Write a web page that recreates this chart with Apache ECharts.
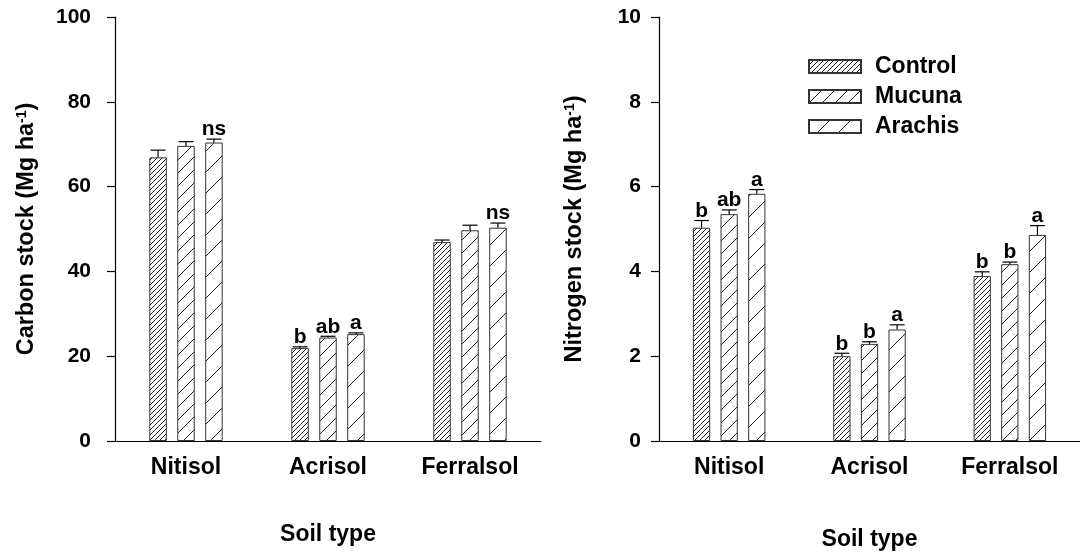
<!DOCTYPE html>
<html>
<head>
<meta charset="utf-8">
<script src="https://cdn.jsdelivr.net/npm/echarts@6/dist/echarts.min.js"></script>
<style>html,body{margin:0;padding:0;background:#fff}#c{width:1080px;height:556px}</style>
</head>
<body>
<div id="c"></div>
<script>
const categories = ['Nitisol', 'Acrisol', 'Ferralsol'];
const treatments = ['Control', 'Mucuna', 'Arachis'];

const carbonControl = [66.9, 21.9, 46.9];
const carbonMucuna = [69.6, 24.4, 49.7];
const carbonArachis = [70.4, 25.2, 50.3];
const carbonControlSE = [1.7, 0.3, 0.5];
const carbonMucunaSE = [1.0, 0.3, 1.2];
const carbonArachisSE = [0.8, 0.3, 1.1];
const carbonControlLetters = ['', 'b', ''];
const carbonMucunaLetters = ['', 'ab', ''];
const carbonArachisLetters = ['ns', 'a', 'ns'];

const nitrogenControl = [5.03, 2.00, 3.89];
const nitrogenMucuna = [5.35, 2.29, 4.17];
const nitrogenArachis = [5.83, 2.63, 4.86];
const nitrogenControlSE = [0.17, 0.07, 0.10];
const nitrogenMucunaSE = [0.10, 0.05, 0.05];
const nitrogenArachisSE = [0.10, 0.11, 0.22];
const nitrogenControlLetters = ['b', 'b', 'b'];
const nitrogenMucunaLetters = ['ab', 'b', 'b'];
const nitrogenArachisLetters = ['a', 'a', 'a'];

const carbonTicks = [0, 20, 40, 60, 80, 100];
const nitrogenTicks = [0, 2, 4, 6, 8, 10];

const FONT = '"Liberation Sans", Arial, Helvetica, sans-serif';

function hatch(s) {
  const c = document.createElement('canvas');
  c.width = s; c.height = s;
  const g = c.getContext('2d');
  g.fillStyle = '#fff'; g.fillRect(0, 0, s, s);
  g.strokeStyle = '#222'; g.lineWidth = 1;
  g.beginPath();
  g.moveTo(-1, s + 1); g.lineTo(s + 1, -1);
  g.moveTo(-1, 1); g.lineTo(1, -1);
  g.moveTo(s - 1, s + 1); g.lineTo(s + 1, s - 1);
  g.stroke();
  return { image: c, repeat: 'repeat' };
}
const patterns = [hatch(5), hatch(13), hatch(21)];

const BARW = 0.123, GAP = 0.6;
const STEP = BARW * (1 + GAP);

function errRender(k) {
  return function (params, api) {
    const idx = api.value(0);
    const mean = api.value(1), se = api.value(2);
    const band = api.size([1, 0])[0];
    const cx = api.coord([idx, 0])[0] + (k - 1) * STEP * band;
    const yb = api.coord([idx, mean])[1];
    const yt = api.coord([idx, mean + se])[1];
    const half = band * BARW * 0.43;
    const letter = api.value(3);
    const ls = { stroke: '#000', lineWidth: 1.2 };
    return {
      type: 'group',
      children: [
        { type: 'line', shape: { x1: cx, y1: yb, x2: cx, y2: yt }, style: ls },
        { type: 'line', shape: { x1: cx - half, y1: yt, x2: cx + half, y2: yt }, style: ls },
        { type: 'text', style: { text: letter, x: cx, y: yt + 1, align: 'center', verticalAlign: 'bottom',
          fontSize: 21, fontWeight: 'bold', fontFamily: FONT, fill: '#000' } }
      ]
    };
  };
}

function buildSeries(axisIdx, means, ses, letters) {
  const out = [];
  for (let k = 0; k < 3; k++) {
    out.push({
      type: 'bar', name: treatments[k], xAxisIndex: axisIdx, yAxisIndex: axisIdx,
      data: means[k], barWidth: (BARW * 100) + '%', barGap: (GAP * 100) + '%',
      itemStyle: { color: patterns[k], borderColor: '#333', borderWidth: 1 },
      silent: true
    });
  }
  for (let k = 0; k < 3; k++) {
    out.push({
      type: 'custom', name: 'err' + axisIdx + k, xAxisIndex: axisIdx, yAxisIndex: axisIdx,
      renderItem: errRender(k), encode: { x: 0, y: 1 }, z: 5, silent: true,
      data: means[k].map((m, i) => [i, m, ses[k][i], letters[k][i]])
    });
  }
  return out;
}

function yAxisCfg(idx, ticks, name, gap, margin) {
  return {
    type: 'value', gridIndex: idx, min: ticks[0], max: ticks[ticks.length - 1],
    interval: ticks[1] - ticks[0],
    name: name, nameLocation: 'middle', nameGap: gap,
    nameTextStyle: { fontSize: 23.5, fontWeight: 'bold', fontFamily: FONT, color: '#000',
      rich: { sup: { fontSize: 14, fontWeight: 'bold', fontFamily: FONT, color: '#000', verticalAlign: 'top', lineHeight: 15 } } },
    axisLine: { show: true, lineStyle: { color: '#000', width: 1.2 } },
    axisTick: { show: true, inside: false, length: 8, lineStyle: { color: '#000', width: 1.2 } },
    axisLabel: { fontSize: 21, fontWeight: 'bold', fontFamily: FONT, color: '#000', margin: margin },
    splitLine: { show: false }
  };
}

function xAxisCfg(idx, gap) {
  return {
    type: 'category', gridIndex: idx, data: categories,
    name: 'Soil type', nameLocation: 'middle', nameGap: gap,
    nameTextStyle: { fontSize: 23, fontWeight: 'bold', fontFamily: FONT, color: '#000' },
    axisLine: { show: true, lineStyle: { color: '#000', width: 1.2 } },
    axisTick: { show: false },
    axisLabel: { fontSize: 23, fontWeight: 'bold', fontFamily: FONT, color: '#000', margin: 15 },
    splitLine: { show: false }
  };
}

const chart = echarts.init(document.getElementById('c'), null, { renderer: 'canvas' });
chart.setOption({
  animation: false,
  backgroundColor: '#fff',
  grid: [
    { left: 115, top: 17, width: 426, height: 424 },
    { left: 659, top: 17, width: 424, height: 424 }
  ],
  xAxis: [xAxisCfg(0, 82), xAxisCfg(1, 87)],
  yAxis: [
    yAxisCfg(0, carbonTicks, 'Carbon stock (Mg ha{sup|-1})', 76, 24),
    yAxisCfg(1, nitrogenTicks, 'Nitrogen stock (Mg ha{sup|-1})', 72, 18)
  ],
  legend: {
    data: treatments, orient: 'vertical', left: 803, top: 50,
    itemWidth: 52, itemHeight: 13, itemGap: 7, selectedMode: false,
    icon: 'rect',
    textStyle: { fontSize: 23, fontWeight: 'bold', fontFamily: FONT, color: '#000', padding: [0, 0, 0, 9] }
  },
  series: [].concat(
    buildSeries(0, [carbonControl, carbonMucuna, carbonArachis],
      [carbonControlSE, carbonMucunaSE, carbonArachisSE],
      [carbonControlLetters, carbonMucunaLetters, carbonArachisLetters]),
    buildSeries(1, [nitrogenControl, nitrogenMucuna, nitrogenArachis],
      [nitrogenControlSE, nitrogenMucunaSE, nitrogenArachisSE],
      [nitrogenControlLetters, nitrogenMucunaLetters, nitrogenArachisLetters])
  )
});
</script>
</body>
</html>
